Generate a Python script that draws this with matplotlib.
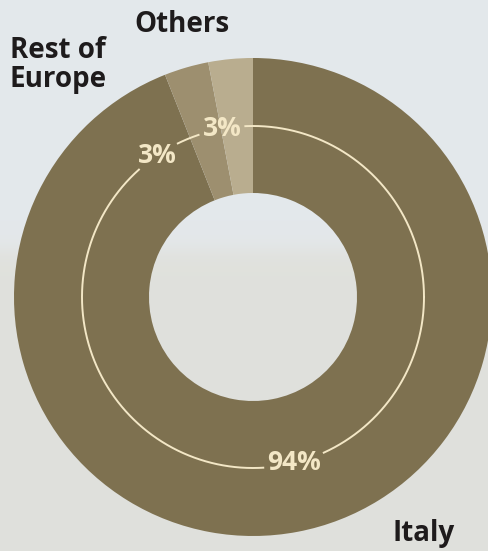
import matplotlib.pyplot as plt
import numpy as np

# Share of sales by market
markets = ['Italy', 'Rest of Europe', 'Others']
shares = [94, 3, 3]
colors = ['#7e7150', '#9d8f6f', '#b9ad8f']

W, H = 488, 551
cx, cy = 253, H - 297
r_out, r_in, r_line = 239, 104, 171
cream = '#f3e7c6'

fig = plt.figure(figsize=(W / 100, H / 100), dpi=100)
ax = fig.add_axes([0, 0, 1, 1])

# soft sky / ground backdrop
yy = np.linspace(H, 0, H)[:, None]
top = np.array([0.894, 0.910, 0.922])
bottom = np.array([0.878, 0.882, 0.863])
t = 1 / (1 + np.exp(-(H - 250 - yy) / 6.0))
bg = (1 - t) * top + t * bottom
bg = np.repeat(bg[:, None, :], 2, axis=1).reshape(H, 2, 3)
ax.imshow(bg, extent=(0, W, 0, H), aspect='auto', zorder=0)

wedges, _ = ax.pie(shares, colors=colors, startangle=90, counterclock=False,
                   radius=r_out, center=(cx, cy), frame=True,
                   wedgeprops=dict(width=r_out - r_in, linewidth=0))
ax.set_xlim(0, W)
ax.set_ylim(0, H)
ax.set_aspect('equal')
ax.axis('off')

# label angles on the ring; the two thin slices get spread apart
label_ang = [-76.0, 124.0, 100.5]

renderer = fig.canvas.get_renderer()
gaps = []
for ang, val in zip(label_ang, shares):
    a = np.deg2rad(ang)
    txt = ax.text(cx + r_line * np.cos(a), cy + r_line * np.sin(a), f'{val}%',
                  ha='center', va='center', color=cream, fontsize=19,
                  fontweight='bold', family='Open Sans', zorder=4)
    half = (txt.get_window_extent(renderer).width / 2 + 4) / r_line
    gaps.append((a - half, a + half))

# ring line broken where the labels sit
theta = np.linspace(0, 2 * np.pi, 1440)
gaps_n = [(lo % (2 * np.pi), hi % (2 * np.pi)) for lo, hi in gaps]
mask = np.ones_like(theta, dtype=bool)
for lo, hi in gaps_n:
    if lo < hi:
        mask &= ~((theta > lo) & (theta < hi))
    else:
        mask &= ~((theta > lo) | (theta < hi))
xs = np.where(mask, cx + r_line * np.cos(theta), np.nan)
ys = np.where(mask, cy + r_line * np.sin(theta), np.nan)
ax.plot(xs, ys, color=cream, lw=1.4, zorder=3)

lab = dict(color='#1e1b1c', fontsize=20, fontweight='bold', family='Open Sans',
           linespacing=1.0)
ax.text(182, H - 25, 'Others', ha='center', va='center', **lab)
ax.text(10, H - 65, 'Rest of\nEurope', ha='left', va='center', **lab)
ax.text(424, H - 533, 'Italy', ha='center', va='center', **lab)

fig.savefig('out.png', dpi=100)
